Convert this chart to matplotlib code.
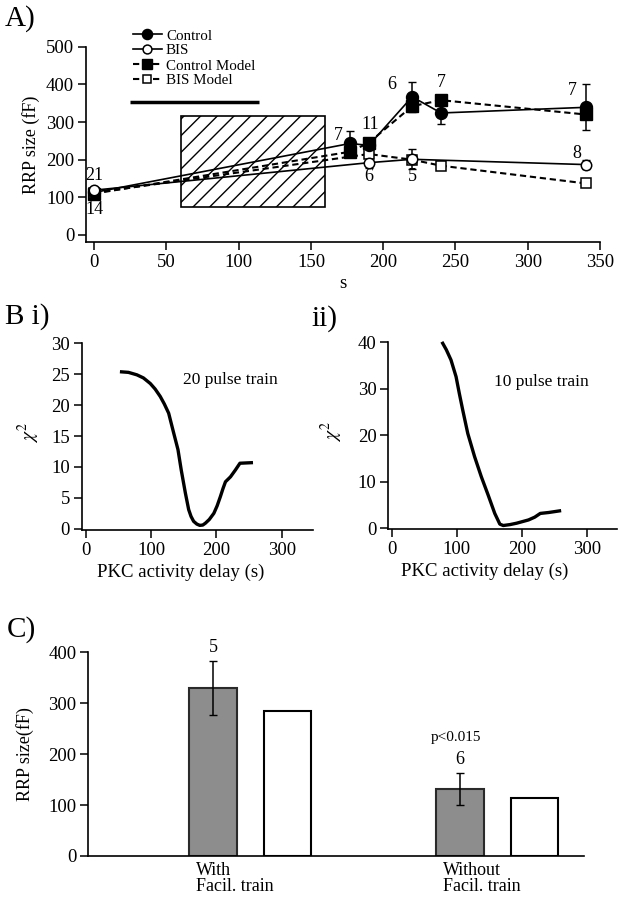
import numpy as np
import matplotlib
matplotlib.use("Agg")
import matplotlib.pyplot as plt
from matplotlib.patches import Rectangle
from matplotlib.transforms import blended_transform_factory

plt.rcParams['font.family'] = ['Liberation Serif', 'DejaVu Serif']
plt.rcParams['mathtext.fontset'] = 'stix'
plt.rcParams['hatch.linewidth'] = 1.0

# ---- Panel A: RRP size vs time ----
t_ctrl = [0, 177, 190, 220, 240, 340]
ctrl_mean = [113, 243, 238, 367, 324, 339]
ctrl_err = [9, 33, 12, 40, 30, 61]
t_bis = [0, 190, 220, 340]
bis_mean = [119, 192, 201, 187]
bis_err = [8, 14, 27, 12]
t_ctrl_model = [0, 177, 190, 220, 240, 340]
ctrl_model = [110, 221, 245, 342, 358, 320]
t_bis_model = [0, 190, 220, 240, 340]
bis_model = [112, 215, 200, 184, 137]

# n labels (time, value, text)
n_t = [0, 0, 169, 191, 206, 240, 190, 220, 331, 334]
n_v = [159, 69, 265, 294, 400, 404, 155, 155, 383, 217]
n_txt = ['21', '14', '7', '11', '6', '7', '6', '5', '7', '8']

pkc_window = (60, 160)      # s
pkc_box_range = (75, 315)   # fF
stim_span = (25, 114)
stim_level = 353

# ---- Panel B: chi^2 vs PKC delay ----
b1_delay = [52, 65, 78, 88, 98.5, 106, 113.8, 120, 126.7, 134.4, 141, 146, 152.3, 157.4,
            161, 165, 170, 174.4, 179, 183, 189, 196, 201, 206, 210, 213.8, 221.5, 229, 236, 256]
b1_chi2 = [25.4, 25.3, 24.9, 24.4, 23.5, 22.6, 21.4, 20.2, 18.7, 15.5, 12.8, 9.5, 5.8, 3.1,
           2.0, 1.2, 0.75, 0.55, 0.6, 0.9, 1.5, 2.5, 3.7, 5.2, 6.5, 7.6, 8.4, 9.5, 10.6, 10.7]
b2_delay = [77.2, 84, 91.2, 99, 104, 109.3, 117, 127.5, 137.8, 148.2, 158.5, 166.3, 171.5,
            182, 192.2, 210.4, 220, 228.5, 241.5, 260.6]
b2_chi2 = [40.1, 38.4, 36.2, 32.6, 29.0, 25.4, 20.4, 15.4, 11.1, 7.2, 3.2, 0.9, 0.6,
           0.8, 1.1, 1.8, 2.4, 3.2, 3.4, 3.8]

# ---- Panel C: bars ----
conditions = ['With\nFacil. train', 'Without\nFacil. train']
exp_mean = [330, 132]
exp_sem = [53, 31]
model_vals = [285, 113]
n_cells = ['5', '6']

W, H = 623, 899
fig = plt.figure(figsize=(W / 100, H / 100), dpi=100)


def px_axes(l, t, r, b):
    return fig.add_axes([l / W, 1 - b / H, (r - l) / W, (b - t) / H])


def style(ax, ticklen=6):
    for s in ['top', 'right']:
        ax.spines[s].set_visible(False)
    for s in ['left', 'bottom']:
        ax.spines[s].set_linewidth(1.2)
    ax.tick_params(direction='out', length=ticklen, width=1.1, labelsize=13.5, pad=2.5)


# ===== A =====
axA = px_axes(86, 46.7, 600, 242)
style(axA)
axA.set_xlim(-5.7, 350)
axA.set_ylim(-18.6, 500)
axA.set_xticks(np.arange(0, 351, 50))
axA.set_yticks(np.arange(0, 501, 100))

axA.add_patch(Rectangle((pkc_window[0], pkc_box_range[0]), pkc_window[1] - pkc_window[0],
                        pkc_box_range[1] - pkc_box_range[0], facecolor='none',
                        edgecolor='black', hatch='//', lw=1.2, zorder=1))
axA.plot(stim_span, [stim_level, stim_level], color='black', lw=2.5, solid_capstyle='butt')

dash = (0, (3, 1.8))
axA.errorbar(t_ctrl, ctrl_mean, yerr=ctrl_err, fmt='none', ecolor='black', elinewidth=1.1, capsize=3, zorder=3)
axA.errorbar(t_bis, bis_mean, yerr=bis_err, fmt='none', ecolor='black', elinewidth=1.1, capsize=3, zorder=3)
axA.plot(t_ctrl_model, ctrl_model, ls=dash, color='black', lw=1.5, marker='s', ms=8,
         mfc='black', mec='black', label='Control Model', zorder=4)
axA.plot(t_bis_model, bis_model, ls=dash, color='black', lw=1.5, marker='s', ms=6.5,
         mfc='white', mec='black', mew=1.1, label='BIS Model', zorder=4)
axA.plot(t_ctrl, ctrl_mean, '-', color='black', lw=1.2, marker='o', ms=8.6,
         mfc='black', mec='black', label='Control', zorder=5)
axA.plot(t_bis, bis_mean, '-', color='black', lw=1.2, marker='o', ms=7.5,
         mfc='white', mec='black', mew=1.1, label='BIS', zorder=5)

for x, y, s in zip(n_t, n_v, n_txt):
    axA.text(x, y, s, ha='center', va='center', fontsize=13)

handles, labels = axA.get_legend_handles_labels()
order = [2, 3, 0, 1]
axA.legend([handles[i] for i in order], [labels[i] for i in order],
           loc='upper left', bbox_to_anchor=(133 / W, 1 - 29 / H), bbox_transform=fig.transFigure,
           frameon=False, fontsize=10.8, handlelength=1.9, handletextpad=0.3,
           labelspacing=0.1, borderpad=0, borderaxespad=0, numpoints=1, markerscale=0.85)

axA.set_xlabel('s', fontsize=13.5)
axA.xaxis.set_label_coords(0.5, -0.17)
axA.set_ylabel('RRP size (fF)', fontsize=13)
axA.yaxis.set_label_coords(-0.09, 0.5)
fig.text(5 / W, 1 - 5 / H, 'A)', fontsize=21, va='top', ha='left')

# ===== B i =====
axB1 = px_axes(81.7, 343.3, 313, 530)
style(axB1)
axB1.set_xlim(-6.6, 348)
axB1.set_ylim(-0.2, 30)
axB1.set_xticks([0, 100, 200, 300])
axB1.set_yticks(np.arange(0, 31, 5))
axB1.plot(b1_delay, b1_chi2, color='black', lw=2.4, solid_capstyle='butt')
axB1.text(222, 24, '20 pulse train', ha='center', va='center', fontsize=12.5)
axB1.set_xlabel('PKC activity delay (s)', fontsize=13.5)
axB1.xaxis.set_label_coords(0.43, -0.18)
axB1.set_ylabel(r'$\chi^2$', fontsize=14)
axB1.yaxis.set_label_coords(-0.17, 0.52)
fig.text(5 / W, 1 - 303 / H, 'B i)', fontsize=21, va='top', ha='left')

# ===== B ii =====
axB2 = px_axes(388.3, 342.3, 616.7, 529)
style(axB2)
axB2.set_xlim(-5.2, 346)
axB2.set_ylim(-0.15, 40)
axB2.set_xticks([0, 100, 200, 300])
axB2.set_yticks(np.arange(0, 41, 10))
axB2.plot(b2_delay, b2_chi2, color='black', lw=2.4, solid_capstyle='butt', clip_on=False)
axB2.text(230, 31.5, '10 pulse train', ha='center', va='center', fontsize=12.5)
axB2.set_xlabel('PKC activity delay (s)', fontsize=13.5)
axB2.xaxis.set_label_coords(0.42, -0.18)
axB2.set_ylabel(r'$\chi^2$', fontsize=14)
axB2.yaxis.set_label_coords(-0.19, 0.52)
fig.text(311 / W, 1 - 305 / H, 'ii)', fontsize=21, va='top', ha='left')

# ===== C =====
axC = px_axes(88.3, 652.3, 584, 856)
style(axC)
axC.set_xlim(0, 10)
axC.set_ylim(0, 400)
axC.set_yticks(np.arange(0, 401, 100))
axC.set_xticks([])
grp = np.array([3.27, 8.25])
bw = 0.96
axC.bar(grp - 0.75, exp_mean, bw, color='#8d8d8d', edgecolor='#2a2a2a', lw=1.5, zorder=2)
axC.bar(grp + 0.75, model_vals, bw, color='white', edgecolor='black', lw=1.5, zorder=2)
axC.errorbar(grp - 0.75, exp_mean, yerr=exp_sem, fmt='none', ecolor='black',
             elinewidth=1.1, capsize=3, zorder=3)
for x, m, e, n in zip(grp - 0.75, exp_mean, exp_sem, n_cells):
    axC.text(x, m + e + 27, n, ha='center', va='center', fontsize=13, clip_on=False)
axC.text(grp[1] - 0.83, 233, 'p<0.015', ha='center', va='center', fontsize=11)
trans = blended_transform_factory(axC.transData, axC.transAxes)
for x, lab in zip(grp - 0.75, conditions):
    axC.text(x - 0.34, -0.03, lab, transform=trans, ha='left', va='top',
             fontsize=13, linespacing=0.92)
axC.set_ylabel('RRP size(fF)', fontsize=13)
axC.yaxis.set_label_coords(-0.11, 0.5)
fig.text(7 / W, 1 - 616 / H, 'C)', fontsize=21, va='top', ha='left')

fig.savefig('out.png', dpi=100)
